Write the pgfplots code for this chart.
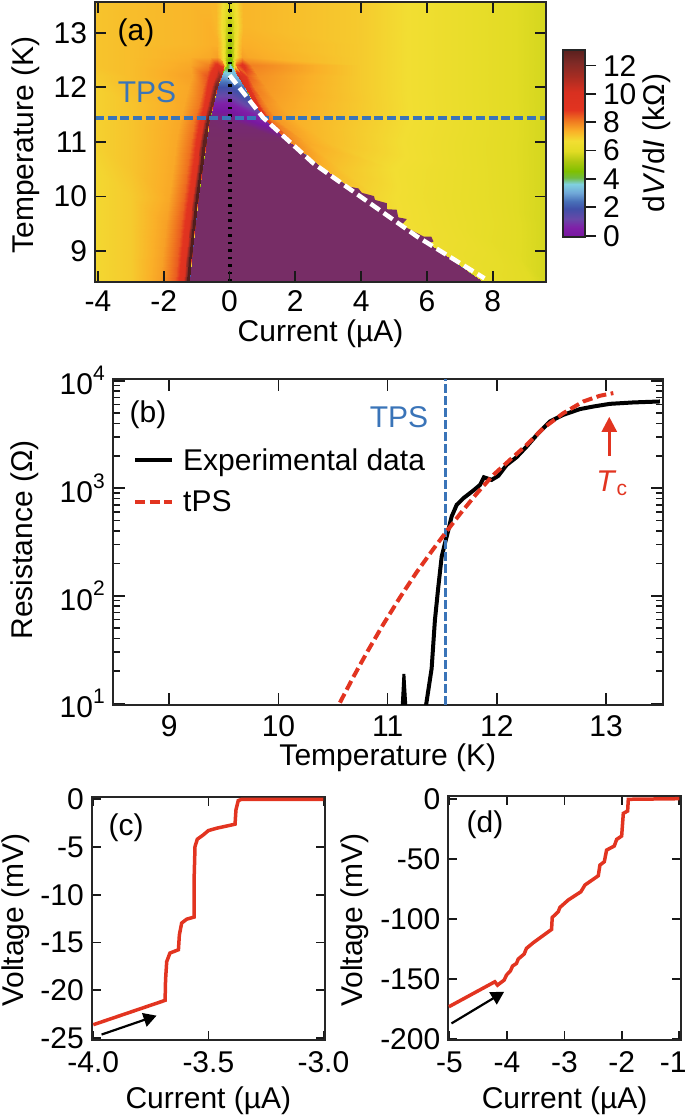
\documentclass[border=0pt]{standalone}
\usepackage{fontspec}
\setmainfont{Liberation Sans}
\usepackage{pgfplots}
\pgfplotsset{compat=1.18}
\usetikzlibrary{arrows.meta}

\definecolor{tpsblue}{HTML}{3A74B8}
\definecolor{ivred}{HTML}{E23420}
\newcommand\lab{\fontsize{30}{34}\selectfont}
\newcommand\pw[1]{10\raisebox{0.48em}{\fontsize{21}{21}\selectfont #1}}

\pgfplotsset{
  panel/.style={
    scale only axis,
    axis line style={line width=2pt,black!85},
    tick style={line width=1.7pt,black!90},
    tick align=inside,
    major tick length=11pt,
    tick label style={font=\lab,inner sep=0pt,outer sep=0pt},
    label style={font=\lab,inner sep=0pt,outer sep=0pt},
    xticklabel shift=9pt,
    yticklabel shift=8pt,
    every axis plot/.append style={line cap=butt},
  },
  dvmap/.style={
    point meta min=-1,point meta max=13.1,
    colormap={dv}{
      rgb255(0cm)=(119,45,102);
      rgb255(1cm)=(120,24,160);
      rgb255(1.6cm)=(128,32,168);
      rgb255(2.2cm)=(104,72,168);
      rgb255(2.9cm)=(64,80,168);
      rgb255(3.4cm)=(72,112,184);
      rgb255(4cm)=(112,168,216);
      rgb255(4.6cm)=(128,208,224);
      rgb255(5.05cm)=(112,188,64);
      rgb255(5.5cm)=(128,192,0);
      rgb255(6.2cm)=(176,200,16);
      rgb255(6.9cm)=(226,220,36);
      rgb255(7.6cm)=(242,222,50);
      rgb255(8.3cm)=(250,176,40);
      rgb255(9cm)=(240,120,32);
      rgb255(9.75cm)=(226,52,32);
      rgb255(11cm)=(216,48,32);
      rgb255(12.1cm)=(165,44,34);
      rgb255(13cm)=(128,42,38);
      rgb255(14.1cm)=(80,30,28);
    },
  },
}

\begin{document}
\begin{tikzpicture}
\path[use as bounding box] (0,0) rectangle (685pt,1116pt);

% (a)
\begin{axis}[panel,dvmap,axis on top,
  at={(95pt,834pt)},anchor=south west,width=451pt,height=280pt,
  xmin=-4.09,xmax=9.62,ymin=8.438,ymax=13.562,
  xtick={-4,-2,0,2,4,6,8},xticklabels={-4,-2,0,2,4,6,8},
  ytick={9,10,11,12,13},yticklabels={9,10,11,12,13},
  xlabel={Current (µA)},ylabel={Temperature (K)},
  x label style={at={(axis description cs:0.5,-0.186)},anchor=center},
  y label style={at={(axis description cs:-0.153,0.489)},anchor=center},
]
\addplot[surf,shader=interp,mesh/rows=15,mesh/cols=16,point meta=explicit] coordinates {
(-4.09,8.44)[6.7] (-3,8.44)[6.9] (-2.12,8.44)[7.5] (-1.67,8.44)[8.3] (-1.42,8.44)[9.3] (-1.3,8.44)[13.1] (-1.23,8.44)[13.1] (-1.2,8.44)[-1] (0,8.44)[-1] (7.73,8.44)[-1] (7.75,8.44)[6.2] (7.9,8.44)[6.2] (8.25,8.44)[6.1] (8.7,8.44)[6] (9.2,8.44)[5.9] (9.62,8.44)[5.7]
(-4.09,9)[6.7] (-3,9)[6.9] (-2.03,9)[7.5] (-1.58,9)[8.3] (-1.33,9)[9.3] (-1.21,9)[13.1] (-1.14,9)[13.1] (-1.11,9)[-1] (0,9)[-1] (6.38,9)[-1] (6.4,9)[6.4] (6.55,9)[6.4] (6.9,9)[6.3] (7.7,9)[6.2] (8.6,9)[5.95] (9.62,9)[5.7]
(-4.09,9.5)[6.7] (-3,9.5)[6.9] (-1.93,9.5)[7.5] (-1.48,9.5)[8.3] (-1.23,9.5)[9.3] (-1.11,9.5)[13.1] (-1.04,9.5)[13.1] (-1.01,9.5)[-1] (0,9.5)[-1] (5.2,9.5)[-1] (5.22,9.5)[6.6] (5.37,9.5)[6.6] (5.72,9.5)[6.5] (6.8,9.5)[6.3] (8.2,9.5)[6.05] (9.62,9.5)[5.7]
(-4.09,10)[6.7] (-3,10)[6.9] (-1.84,10)[7.4] (-1.39,10)[8.2] (-1.14,10)[9.2] (-1.02,10)[13.1] (-0.95,10)[13.1] (-0.92,10)[-1] (0,10)[-1] (4.03,10)[-1] (4.05,10)[6.8] (4.2,10)[6.8] (4.55,10)[6.7] (6,10)[6.4] (8,10)[6.05] (9.62,10)[5.7]
(-4.09,10.5)[6.7] (-3,10.5)[7] (-1.73,10.5)[7.4] (-1.28,10.5)[8.1] (-1.03,10.5)[9.2] (-0.91,10.5)[13.1] (-0.84,10.5)[13.1] (-0.81,10.5)[-1] (0,10.5)[-1] (2.88,10.5)[-1] (2.9,10.5)[7.2] (3.05,10.5)[7.2] (3.4,10.5)[7] (5,10.5)[6.6] (7.5,10.5)[6.15] (9.62,10.5)[5.7]
(-4.09,11)[6.8] (-3,11)[7] (-1.62,11)[7.4] (-1.17,11)[8.1] (-0.92,11)[9.2] (-0.8,11)[12.8] (-0.73,11)[12.8] (-0.7,11)[-1] (0,11)[-1] (1.81,11)[-1] (1.83,11)[7.8] (1.98,11)[7.7] (2.33,11)[7.4] (3,11)[7.1] (5.5,11)[6.55] (9.62,11)[5.7]
(-4.09,11.4)[6.8] (-3,11.4)[7] (-1.52,11.4)[7.4] (-1.07,11.4)[8] (-0.82,11.4)[9.2] (-0.7,11.4)[12.6] (-0.63,11.4)[12.6] (-0.6,11.4)[-0.9] (0,11.4)[-0.7] (1.08,11.4)[0.6] (1.1,11.4)[9] (1.25,11.4)[8] (1.45,11.4)[7.6] (2,11.4)[7.3] (5,11.4)[6.7] (9.62,11.4)[5.7]
(-4.09,11.7)[6.8] (-3,11.7)[7] (-1.38,11.7)[7.4] (-0.93,11.7)[8] (-0.68,11.7)[9.2] (-0.56,11.7)[12.4] (-0.49,11.7)[12.4] (-0.46,11.7)[0.6] (0,11.7)[0.5] (0.76,11.7)[1.8] (0.78,11.7)[9.4] (0.93,11.7)[8.2] (1.1,11.7)[7.7] (1.5,11.7)[7.45] (4.5,11.7)[6.8] (9.62,11.7)[5.7]
(-4.09,12)[6.8] (-3,12)[7.1] (-1.27,12)[7.4] (-0.82,12)[8.1] (-0.57,12)[9.4] (-0.45,12)[12.4] (-0.38,12)[12.4] (-0.35,12)[1.9] (0,12)[1.9] (0.45,12)[2.4] (0.47,12)[10] (0.62,12)[8.6] (0.75,12)[8] (1.1,12)[7.6] (4,12)[6.9] (9.62,12)[5.7]
(-4.09,12.2)[6.9] (-3,12.2)[7.1] (-1.14,12.2)[7.5] (-0.69,12.2)[8.4] (-0.44,12.2)[9.6] (-0.32,12.2)[11.5] (-0.25,12.2)[11.5] (-0.22,12.2)[3] (0,12.2)[3.3] (0.25,12.2)[3.2] (0.27,12.2)[10.5] (0.4,12.2)[9.2] (0.55,12.2)[8.3] (0.85,12.2)[7.7] (4,12.2)[6.9] (9.62,12.2)[5.7]
(-4.09,12.4)[7] (-3,12.4)[7.1] (-1.2,12.4)[7.4] (-0.65,12.4)[7.9] (-0.38,12.4)[9] (-0.2,12.4)[8.2] (-0.14,12.4)[6.5] (-0.07,12.4)[4.5] (0,12.4)[3.6] (0.07,12.4)[4.5] (0.14,12.4)[6.5] (0.2,12.4)[8.2] (0.38,12.4)[9] (0.65,12.4)[7.9] (4,12.4)[6.9] (9.62,12.4)[5.7]
(-4.09,12.55)[7] (-3,12.55)[7.1] (-1.2,12.55)[7.3] (-0.6,12.55)[7.4] (-0.38,12.55)[7.5] (-0.28,12.55)[7.1] (-0.18,12.55)[6.4] (-0.1,12.55)[5.4] (0,12.55)[4.6] (0.1,12.55)[5.4] (0.18,12.55)[6.4] (0.28,12.55)[7.1] (0.38,12.55)[7.5] (0.6,12.55)[7.4] (4,12.55)[6.9] (9.62,12.55)[5.7]
(-4.09,12.8)[7] (-3,12.8)[7.1] (-1.2,12.8)[7.2] (-0.6,12.8)[7.3] (-0.38,12.8)[7.3] (-0.28,12.8)[7] (-0.18,12.8)[6.4] (-0.1,12.8)[5.4] (0,12.8)[4.9] (0.1,12.8)[5.4] (0.18,12.8)[6.4] (0.28,12.8)[7] (0.38,12.8)[7.3] (0.6,12.8)[7.3] (4,12.8)[6.9] (9.62,12.8)[5.7]
(-4.09,13.1)[7] (-3,13.1)[7.1] (-1.2,13.1)[7.2] (-0.6,13.1)[7.3] (-0.4,13.1)[7.2] (-0.28,13.1)[6.8] (-0.18,13.1)[6.2] (-0.1,13.1)[5.6] (0,13.1)[5.3] (0.1,13.1)[5.6] (0.18,13.1)[6.2] (0.28,13.1)[6.8] (0.4,13.1)[7.2] (0.6,13.1)[7.2] (4,13.1)[6.9] (9.62,13.1)[5.7]
(-4.09,13.57)[7] (-3,13.57)[7.1] (-1.2,13.57)[7.2] (-0.6,13.57)[7.2] (-0.4,13.57)[7.2] (-0.28,13.57)[6.9] (-0.18,13.57)[6.5] (-0.1,13.57)[6.1] (0,13.57)[5.8] (0.1,13.57)[6.1] (0.18,13.57)[6.5] (0.28,13.57)[6.9] (0.4,13.57)[7.2] (0.6,13.57)[7.2] (4,13.57)[6.9] (9.62,13.57)[5.7]
};
% stepped edge of the zero-resistance region
\addplot[fill={rgb,255:red,119;green,45;blue,102},draw=none] coordinates {
(3.3,10.3) (3.66,10.18) (3.92,10.15) (4.02,10.07) (4.39,10.01) (4.42,9.94) (4.78,9.88) (4.78,9.77) (5.08,9.76) (5.13,9.62) (5.39,9.59) (5.23,9.48) (5.9,9.27) (6.13,9.27) (6.2,9.18) (5.9,9.1) (3.3,10.1)
};
\addplot[black,line width=4pt,dash pattern=on 2.5pt off 5pt] coordinates {(0,8.44) (0,13.56)};
\addplot[tpsblue,line width=4pt,dash pattern=on 9pt off 3.7pt] coordinates {(-4.09,11.445) (9.62,11.445)};
\addplot[white,line width=4.5pt,dash pattern=on 11pt off 5pt] coordinates {(0,12.22) (1.03,11.44) (2.547,10.61) (5.7,9.27) (7.75,8.505)};
\end{axis}
\node[font=\lab] at (136pt,1083pt) {(a)};
\node[font=\lab,text=tpsblue] at (147pt,1024pt) {TPS};

% colour scale of (a)
\begin{axis}[panel,dvmap,axis on top,
  at={(563.3pt,879.3pt)},anchor=south west,width=21.7pt,height=186.7pt,
  xmin=0,xmax=1,ymin=-0.07,ymax=13.1,
  xtick=\empty,ytick={0,2,4,6,8,10,12},yticklabels={0,2,4,6,8,10,12},
  ytick pos=right,tick align=outside,major tick length=11pt,
  yticklabel shift=7pt,yticklabel style={anchor=west},
]
\addplot[surf,shader=interp,mesh/rows=2,mesh/cols=2,point meta=explicit] coordinates {
(0,-0.07)[-0.07] (1,-0.07)[-0.07]
(0,13.1)[12.9] (1,13.1)[12.9]
};
\end{axis}
\node[font=\lab,rotate=90] at (657pt,973pt) {d\textit{V}/d\textit{I} (kΩ)};

% (b)
\begin{axis}[panel,
  at={(112.7pt,411pt)},anchor=south west,width=550.3pt,height=326pt,
  ymode=log,
  xmin=8.482,xmax=13.522,ymin=9.66,ymax=10375,
  xtick={9,10,11,12,13},xticklabels={9,10,11,12,13},
  xticklabel shift=11pt,
  ytick={10,100,1000,10000},yticklabels={\pw{1},\pw{2},\pw{3},\pw{4}},
  major tick length=12pt,minor tick length=7pt,
  minor tick style={line width=1.5pt,black!90},
  xlabel={Temperature (K)},ylabel={Resistance (Ω)},
  x label style={at={(axis description cs:0.5,-0.163)},anchor=center},
  y label style={at={(axis description cs:-0.159,0.506)},anchor=center},
  legend style={draw=none,fill=none,at={(axis cs:8.668,2350)},anchor=north west,
    inner sep=0pt,row sep=19pt,font=\lab,nodes={inner sep=0pt}},
  legend cell align=left,
  legend image code/.code={\draw[#1] (0pt,0pt) -- (37pt,0pt); \path (46pt,0pt);},
]
\addplot[black,line width=4pt] coordinates {
(11.351,9.5) (11.403,21.1) (11.433,59.4) (11.464,121) (11.495,231) (11.525,308) (11.556,409) (11.586,545) (11.632,700) (11.693,807) (11.784,951) (11.846,1074) (11.882,1265) (11.952,1197) (12.013,1303) (12.09,1648) (12.181,1945) (12.273,2443) (12.38,3251) (12.487,4178) (12.609,4819) (12.761,5445) (12.883,5754) (13.036,6095) (13.25,6281) (13.494,6412)
};
\addlegendentry{Experimental data}
\addplot[black,fill=black,line width=1pt,forget plot] coordinates {
(11.125,9.6) (11.14,18.6) (11.158,18.6) (11.175,9.6)
};
\addplot[tpsblue,line width=3.5pt,dash pattern=on 9pt off 3pt,forget plot] coordinates {(11.531,9.66) (11.531,10375)};
\addplot[ivred,line width=4pt,dash pattern=on 10pt off 4.5pt] coordinates {
(10.563,10.16) (10.686,17.6) (10.808,29.5) (10.96,54.3) (11.113,96.6) (11.266,166) (11.418,272) (11.54,398) (11.662,575) (11.815,891) (11.968,1330) (12.12,1837) (12.273,2529) (12.426,3622) (12.609,4989) (12.792,6412) (12.944,7244) (13.067,7674)
};
\addlegendentry{tPS}
\draw[ivred,line width=2.5pt,-{Triangle[length=15pt,width=15pt]}] (axis cs:13.03,2000) -- (axis cs:13.03,4613);
\end{axis}
\node[font=\lab] at (148pt,701pt) {(b)};
\node[font=\lab,text=tpsblue] at (399pt,699pt) {TPS};
\node[font=\lab,text=ivred] at (612pt,633pt) {\textit{T}\textsubscript{c}};

% (c)
\begin{axis}[panel,
  at={(91.7pt,76pt)},anchor=south west,width=233.3pt,height=243.3pt,
  xmin=-4.007,xmax=-2.993,ymin=-25.2,ymax=0.27,
  xtick={-4,-3.5,-3},xticklabels={-4.0,-3.5,-3.0},
  ytick={-25,-20,-15,-10,-5,0},yticklabels={-25,-20,-15,-10,-5,0},
  major tick length=9pt,xticklabel shift=12pt,
  xlabel={Current (µA)},ylabel={Voltage (mV)},
  x label style={at={(axis description cs:0.5,-0.25)},anchor=center},
  y label style={at={(axis description cs:-0.327,0.493)},anchor=center},
]
\addplot[ivred,line width=3.5pt] coordinates {
(-4,-23.6) (-3.688,-21.05) (-3.686,-18.9) (-3.681,-17) (-3.667,-16.1) (-3.63,-15.75) (-3.626,-14.2) (-3.616,-12.96) (-3.594,-12.55) (-3.562,-12.33) (-3.562,-8.43) (-3.558,-4.95) (-3.548,-4.18) (-3.522,-3.73) (-3.5,-3.28) (-3.464,-3.03) (-3.384,-2.61) (-3.38,-1.11) (-3.37,-0.14) (-3.355,0) (-3,0)
};
\draw[black,line width=2.2pt,-{Triangle[length=13pt,width=14pt]}] (axis cs:-3.964,-24.63) -- (axis cs:-3.725,-22.65);
\end{axis}
\node[font=\lab] at (126pt,288pt) {(c)};

% (d)
\begin{axis}[panel,
  at={(448.3pt,76pt)},anchor=south west,width=232.7pt,height=244.3pt,
  xmin=-5.02,xmax=-0.97,ymin=-201,ymax=2.5,
  xtick={-5,-4,-3,-2,-1},xticklabels={-5,-4,-3,-2,\hspace*{-12pt}-1},
  ytick={-200,-150,-100,-50,0},yticklabels={-200,-150,-100,-50,0},
  major tick length=9pt,xticklabel shift=12pt,
  xlabel={Current (µA)},ylabel={Voltage (mV)},
  x label style={at={(axis description cs:0.5,-0.25)},anchor=center},
  y label style={at={(axis description cs:-0.401,0.49)},anchor=center},
]
\addplot[ivred,line width=3.5pt] coordinates {
(-5.01,-173.3) (-4.21,-152.5) (-4.164,-155.3) (-4.048,-151.1) (-4.007,-146.9) (-3.937,-143.3) (-3.902,-139.4) (-3.833,-137.2) (-3.804,-133.6) (-3.7,-129.4) (-3.66,-124.7) (-3.542,-120) (-3.223,-108.9) (-3.211,-98.9) (-3.107,-94.2) (-3.078,-90.6) (-2.933,-84.4) (-2.712,-77.5) (-2.642,-71.9) (-2.41,-64.2) (-2.381,-55.3) (-2.305,-52.5) (-2.265,-42.8) (-2.131,-39.4) (-2.09,-33.9) (-2.003,-31.1) (-1.974,-12.2) (-1.899,-10.3) (-1.887,-0.5) (-1,0)
};
\draw[black,line width=2.2pt,-{Triangle[length=13pt,width=14pt]}] (axis cs:-4.965,-187.2) -- (axis cs:-4.048,-160.8);
\end{axis}
\node[font=\lab] at (485pt,291pt) {(d)};
\end{tikzpicture}
\end{document}
